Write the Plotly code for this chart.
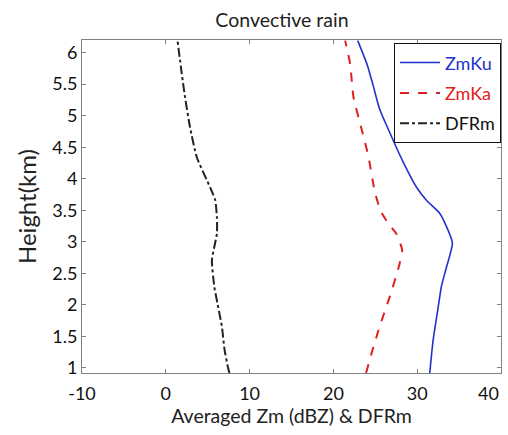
import plotly.graph_objects as go

# Mean vertical profiles, convective rain
height_ku = [0.92, 1.44, 1.96, 2.30, 2.60, 2.98, 3.24, 3.45, 3.66, 3.87, 4.30, 4.71, 5.11, 5.50, 5.82, 6.19]
zm_ku = [31.5, 31.9, 32.5, 32.9, 33.5, 34.2, 33.5, 32.7, 31.1, 29.9, 28.2, 26.8, 25.5, 24.7, 24.0, 22.9]

height_ka = [0.92, 1.30, 1.65, 2.12, 2.60, 2.87, 3.13, 3.30, 3.50, 3.82, 4.34, 4.77, 5.29, 5.82, 6.19]
zm_ka = [23.9, 24.7, 25.5, 26.7, 27.8, 28.2, 27.5, 26.5, 25.6, 24.9, 24.2, 23.4, 22.4, 22.0, 21.4]

height_dfr = [0.92, 1.02, 1.30, 1.65, 2.00, 2.28, 2.71, 3.13, 3.39, 3.66, 3.86, 4.34, 4.81, 5.29, 5.67, 6.19]
dfrm = [7.6, 7.4, 7.0, 6.7, 6.2, 5.8, 5.5, 6.1, 6.1, 5.9, 5.3, 3.7, 2.9, 2.3, 1.9, 1.4]

x_ticks = [-10, 0, 10, 20, 30, 40]
y_ticks = [1, 1.5, 2, 2.5, 3, 3.5, 4, 4.5, 5, 5.5, 6]

FONT = "Lato"
TICK_FONT = dict(size=18, color="#111111", family=FONT)

fig = go.Figure()
fig.add_trace(go.Scatter(
    x=zm_ku, y=height_ku, mode="lines", legendgroup="ku",
    line=dict(color="#2233cc", width=1.6, shape="spline", smoothing=0.6),
    name="<span style='color:#2233cc'>ZmKu</span>"))
fig.add_trace(go.Scatter(
    x=zm_ka, y=height_ka, mode="lines", legendgroup="ka",
    line=dict(color="#e02020", width=2, dash="dash", shape="spline", smoothing=0.5),
    name="<span style='color:#e02020'>ZmKa</span>"))
fig.add_trace(go.Scatter(
    x=dfrm, y=height_dfr, mode="lines", legendgroup="dfr",
    line=dict(color="#222222", width=2, dash="dashdot", shape="spline", smoothing=0.5),
    name="<span style='color:#111111'>DFRm</span>"))

# last x tick label sits flush with the right frame edge
x_ticktext = [str(v) for v in x_ticks[:-1]] + [""]
fig.add_annotation(
    x=x_ticks[-1], xref="x", xanchor="right", y=0, yref="paper", yanchor="top",
    yshift=-7, text=str(x_ticks[-1]), showarrow=False, font=TICK_FONT)

axis_common = dict(
    showline=True, linecolor="#808080", linewidth=1, mirror="ticks",
    ticks="inside", ticklen=4, tickcolor="#808080", showgrid=False, zeroline=False,
    tickfont=TICK_FONT, automargin=False,
)

fig.update_layout(
    width=508, height=435,
    margin=dict(l=82, r=7, t=40, b=62, autoexpand=False),
    paper_bgcolor="white", plot_bgcolor="white",
    title=dict(text="Convective rain", x=0.555, xanchor="center", y=0.953, yanchor="middle",
               font=dict(size=19.5, color="#222222", family=FONT)),
    xaxis=dict(range=[-10, 40], tickvals=x_ticks, ticktext=x_ticktext,
               ticklabelstandoff=4,
               title=dict(text="Averaged Zm (dBZ) & DFRm", standoff=2,
                          font=dict(size=19.5, color="#222222", family=FONT)),
               **axis_common),
    yaxis=dict(range=[0.92, 6.2], tickvals=y_ticks, ticktext=[f"{v:g}" for v in y_ticks],
               title=dict(text="Height(km)", standoff=8,
                          font=dict(size=24, color="#222222", family=FONT)),
               **axis_common),
    legend=dict(x=1, xanchor="right", y=0.99, yanchor="top",
                bgcolor="white", bordercolor="#111111", borderwidth=1,
                font=dict(size=18, family=FONT), tracegroupgap=4,
                itemwidth=40),
    showlegend=True,
)

fig.write_html("out.html")
